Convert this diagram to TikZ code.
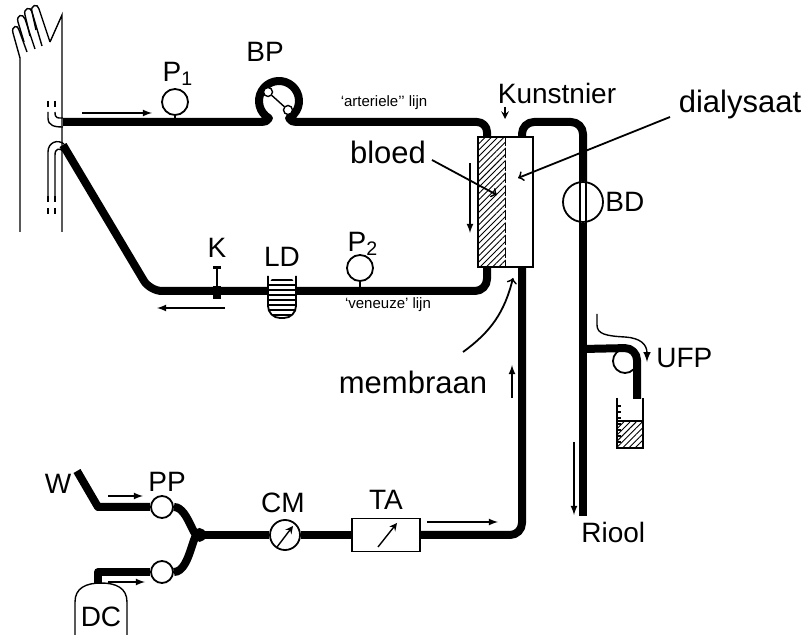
\documentclass[tikz,border=0pt]{standalone}
\usepackage{fontspec}
\setmainfont{Liberation Sans}
\usetikzlibrary{arrows, calc, patterns.meta}

\tikzset{
  tube/.style={line width=4pt, line join=round},
  fine/.style={line width=0.7pt},
  flow/.style={line width=0.6pt, -latex},
  pointer/.style={line width=0.9pt, -to},
  meter/.style={draw, circle, fill=white, line width=0.9pt, inner sep=0pt},
  lbl/.style={font=\fontsize{14}{16}\selectfont, inner sep=0pt},
  biglbl/.style={font=\fontsize{15.5}{18}\selectfont, inner sep=0pt},
  tiny/.style={font=\fontsize{7.5}{9}\selectfont, inner sep=0pt},
  hatch/.style={pattern={Lines[angle=45, distance=2.2pt, line width=0.45pt]}},
}

\begin{document}
\begin{tikzpicture}[x=0.5pt, y=-0.5pt]
\useasboundingbox (0,0) rectangle (808,635);

% Arm and hand
\draw[fine] (20,232) -- (20,58) -- (13,33) .. controls (11,26) and (18,24) .. (19,30) -- (27,52);
\draw[fine] (24,42) -- (18,22) .. controls (16,15) and (23,13) .. (25,19) -- (35,49);
\draw[fine] (30,36) -- (25,15) .. controls (23,8) and (31,6) .. (32,12) -- (42,46);
\draw[fine] (36,30) -- (32,12) .. controls (30,5) and (38,3) .. (39,9) -- (50,42);
\draw[fine] (50,42) -- (62,15) -- (62,232);

% Needles in the arm
\draw[fine, dashed] (48,101) -- (48,112);
\draw[fine, dashed] (55,101) -- (55,112);
\draw[fine] (48,112) -- (48,118) .. controls (48,126) and (55,127) .. (63,127);
\draw[fine] (55,112) .. controls (55,119) and (58,118) .. (63,118);
\draw[fine] (48,196) -- (48,152) .. controls (48,142) and (58,139) .. (64,144);
\draw[fine] (55,196) -- (55,155) .. controls (55,148) and (60,148) .. (63,151);
\draw[fine, dashed] (48,196) -- (48,216);
\draw[fine, dashed] (55,196) -- (55,216);

% Dialyser
\node[draw, line width=1pt, minimum width=27.5pt, minimum height=65pt, inner sep=0pt,
  path picture={\fill[hatch] (path picture bounding box.south west) rectangle (path picture bounding box.north);}]
  (kn) at (505.5,202) {};
\draw[line width=0.8pt, dash pattern=on 5pt off 1.2pt] (kn.north) -- (kn.south);
\coordinate (kn-a) at (487,137);
\coordinate (kn-v) at (487,267);
\coordinate (kn-do) at (522,137);
\coordinate (kn-di) at (522,267);
\node[lbl] (knlbl) at (557,93) {Kunstnier};
\draw[fine, -stealth] (505,107) -- (505,119);

% Arterial line with P1 and blood pump
\coordinate (artin) at (63,122);
\node[meter, minimum size=13pt] (p1) at (175,102) {};
\draw[fine] (p1.south) -- ++(0,5);
\node[lbl] (p1lbl) at (178,74) {P\textsubscript{1}};
\draw[tube] (artin) -- (258,122) .. controls (266,122) and (268,121) .. (269,118.3)
  arc[start angle=120, end angle=420, radius=20]
  .. controls (290,121) and (292,122) .. (300,122)
  [rounded corners=5pt] -- (487,122) -- (kn-a);
\node[meter, minimum size=4.5pt, line width=0.7pt] (rota) at (268,92) {};
\node[meter, minimum size=4.5pt, line width=0.7pt] (rotb) at (288,110) {};
\draw[fine] (rota) -- (rotb);
\node[lbl] (bplbl) at (265,52) {BP};
\node[tiny] (artlbl) at (384,103) {\textquoteleft arteriele\textquoteright\textquoteright\ lijn};
\draw[flow] (82,113) -- (152,113);

% Venous line with clamp, bubble trap and P2
\coordinate (lde) at (296,291);
\coordinate (ldw) at (268,291);
\coordinate (venin) at (63,145);
\draw[tube, rounded corners=6pt] (kn-v) -- (487,291) -- (lde);
\draw[tube, rounded corners=6pt] (ldw) -- (150,291) -- (venin);
\draw[fine, line width=0.9pt, fill=white, rounded corners=6pt] (268,276) -- (268,318) -- (296,318) -- (296,276);
\begin{scope}
  \clip[rounded corners=6pt] (268,276) -- (268,318) -- (296,318) -- (296,276) -- cycle;
  \foreach \y in {280,285,...,315}
    \draw[line width=1pt] (266,\y) -- (298,\y);
\end{scope}
\node[lbl] (ldlbl) at (282,257) {LD};
\node[fill=black, minimum width=4pt, minimum height=6.5pt, inner sep=0pt] (k) at (217,293) {};
\draw[fine] (k.north) -- (217,268);
\draw[line width=1.5pt] (213,268) -- (221,268);
\node[lbl] (klbl) at (217,248) {K};
\node[meter, minimum size=13pt] (p2) at (360,268) {};
\draw[fine] (p2.south) -- ++(0,7);
\node[lbl] (p2lbl) at (363,244) {P\textsubscript{2}};
\node[tiny] (venlbl) at (388,305) {\textquoteleft veneuze\textquoteright\ lijn};
\draw[flow] (225,308) -- (157,308);

% Dialysate outlet, blood leak detector and ultrafiltration
\node[meter, minimum size=20pt] (bd) at (583,202) {};
\draw[fine] ($(bd.north)+(-3,0)$) -- ($(bd.south)+(-3,0)$);
\draw[fine] ($(bd.north)+(3,0)$) -- ($(bd.south)+(3,0)$);
\node[lbl, anchor=west] (bdlbl) at (605,202) {BD};
\draw[tube, rounded corners=6pt] (kn-do) -- (522,122) -- (583,122) -- (bd.north);
\coordinate (drain) at (583,516);
\draw[tube] (bd.south) -- (drain);
\coordinate (ufj) at (583,349);
\node[meter, minimum size=12pt] (ufp) at (625,361) {};
\draw[tube] (ufj) -- (ufp.north) arc[start angle=-90, end angle=0, radius=12] -- (637,399);
\draw[fine, -latex] (597,314) -- (597,325) .. controls (597,334) and (606,336) .. (625,337)
  .. controls (640,338) and (647,344) .. (647,362);
\node[lbl, anchor=west] (ufplbl) at (656,358) {UFP};
\fill[hatch] (617,421) rectangle (643,448);
\draw[line width=1.2pt] (617,421) -- (643,421);
\draw[fine] (617,398) -- (617,448) -- (643,448) -- (643,398);
\foreach \y in {406,412,...,442}
  \draw[fine] (617,\y) -- (621,\y);
\draw[flow] (574,442) -- (574,515);
\node[lbl, anchor=west] (rlbl) at (581,532) {Riool};

% Dialysate preparation and inlet
\coordinate (w) at (77,471);
\coordinate (mix) at (203,535);
\coordinate (dc) at (98,584);
\node[meter, minimum size=11pt] (ppa) at (162,507) {};
\node[meter, minimum size=11pt] (ppb) at (162,572) {};
\node[meter, minimum size=15pt] (cm) at (285,535) {};
\node[draw, fill=white, line width=0.9pt, minimum width=34pt, minimum height=16.5pt, inner sep=0pt] (ta) at (386,535) {};
\draw[tube] (w) -- (98,507) -- (ppa);
\draw[tube, line join=miter] (ppa) to[out=0, in=235] (mix) to[out=125, in=0] (ppb);
\draw[tube] (ppb) -- (98,572) -- (dc);
\draw[tube] (mix) -- (cm);
\draw[tube] (cm) -- (ta);
\draw[tube, rounded corners=6pt] (ta.east) -- (522,535) -- (kn-di);
\draw[fine] (75,635) -- (75,602) .. controls (75,588) and (86,583) .. (101,583)
  .. controls (116,583) and (127,588) .. (127,602) -- (127,635);
\draw[fine, -stealth] (277,547) -- (293,526);
\draw[fine, -stealth] (378,547) -- (397,523);
\node[lbl] (wlbl) at (58,484) {W};
\node[lbl] (pplbl) at (167,482) {PP};
\node[lbl] (cmlbl) at (283,503) {CM};
\node[lbl] (talbl) at (386,500) {TA};
\node[lbl] (dclbl) at (101,617) {DC};
\draw[flow] (108,496) -- (143,496);
\draw[flow] (108,582) -- (145,582);
\draw[flow] (427,522) -- (498,522);
\draw[flow] (512,398) -- (512,365);
\draw[flow] (470,163) -- (470,233);

% Pointers
\node[biglbl] (dlbl) at (740,104) {dialysaat};
\draw[pointer] (670,117) -- (518,178);
\node[biglbl] (blbl) at (388,152) {bloed};
\draw[pointer] (432,160) -- (497,195);
\node[biglbl] (mlbl) at (413,382) {membraan};
\draw[pointer] (463,352) to[bend right=20] (513,278);
\end{tikzpicture}
\end{document}
